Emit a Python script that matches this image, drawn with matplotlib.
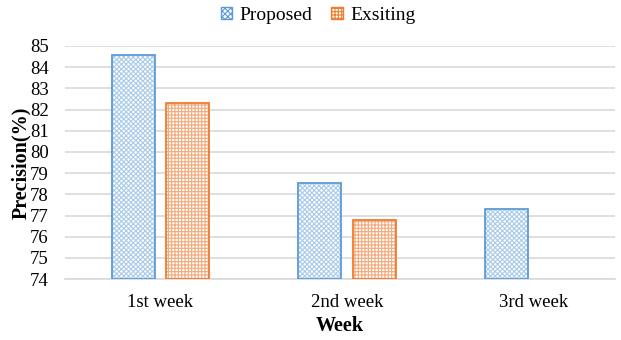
import matplotlib
matplotlib.use("Agg")
import matplotlib.pyplot as plt
import numpy as np
from matplotlib.patches import Patch

weeks = ["1st week", "2nd week", "3rd week"]
proposed = [84.55, 78.55, 77.3]
existing = [82.3, 76.8, np.nan]

blue_edge = "#5B9BD5"
blue_hatch = "#A9CBEA"
orange = "#ED7D31"

plt.rcParams["font.family"] = ["Liberation Serif", "DejaVu Serif"]
plt.rcParams["hatch.linewidth"] = 0.8

fig = plt.figure(figsize=(6.21, 3.4), dpi=100)
ax = fig.add_axes([0.105, 0.179, 0.885, 0.686])

x = np.arange(len(weeks))
w = 0.23
off = 0.145
ymin = 74

def hatched_bars(xpos, vals, hatch, hcolor, ecolor):
    vals = np.asarray(vals, dtype=float)
    heights = vals - ymin
    ax.bar(xpos, heights, w, bottom=ymin, facecolor="white",
           edgecolor=hcolor, hatch=hatch, linewidth=0, zorder=2)
    ax.bar(xpos, heights, w, bottom=ymin, fill=False,
           edgecolor=ecolor, linewidth=1.3, zorder=3)

hatched_bars(x - off, proposed, "xxxxxxx", blue_hatch, blue_edge)
hatched_bars(x + off, existing, "+++++", "#F4A97A", orange)

ax.set_ylim(74, 85)
ax.set_yticks(np.arange(74, 86, 1))
ax.set_xlim(-0.508, 2.433)
ax.set_xticks(x)
ax.set_xticklabels(weeks)
ax.yaxis.grid(True, color="#D9D9D9", linewidth=1.2, zorder=0)
ax.set_axisbelow(True)
for s in ["top", "right", "left"]:
    ax.spines[s].set_visible(False)
ax.spines["bottom"].set_color("#D9D9D9")
ax.spines["bottom"].set_linewidth(1.2)
ax.tick_params(axis="both", length=0, labelsize=13.5)
ax.tick_params(axis="x", pad=11)
ax.tick_params(axis="y", pad=12)

ax.set_ylabel("Precision(%)", fontsize=14.5, fontweight="bold")
ax.yaxis.set_label_coords(-0.062, 0.5)
ax.set_xlabel("Week", fontsize=14.5, fontweight="bold", labelpad=3)

handles = [
    Patch(facecolor="white", edgecolor=blue_edge, hatch="xxxxxx", label="Proposed"),
    Patch(facecolor="white", edgecolor=orange, hatch="+++++", label="Exsiting"),
]
fig.legend(handles=handles, loc="center", bbox_to_anchor=(0.512, 0.955), ncol=2,
           frameon=False, fontsize=14, handlelength=0.6, handleheight=0.6,
           handletextpad=0.35, columnspacing=1.0)

fig.savefig("out.png", dpi=100)
